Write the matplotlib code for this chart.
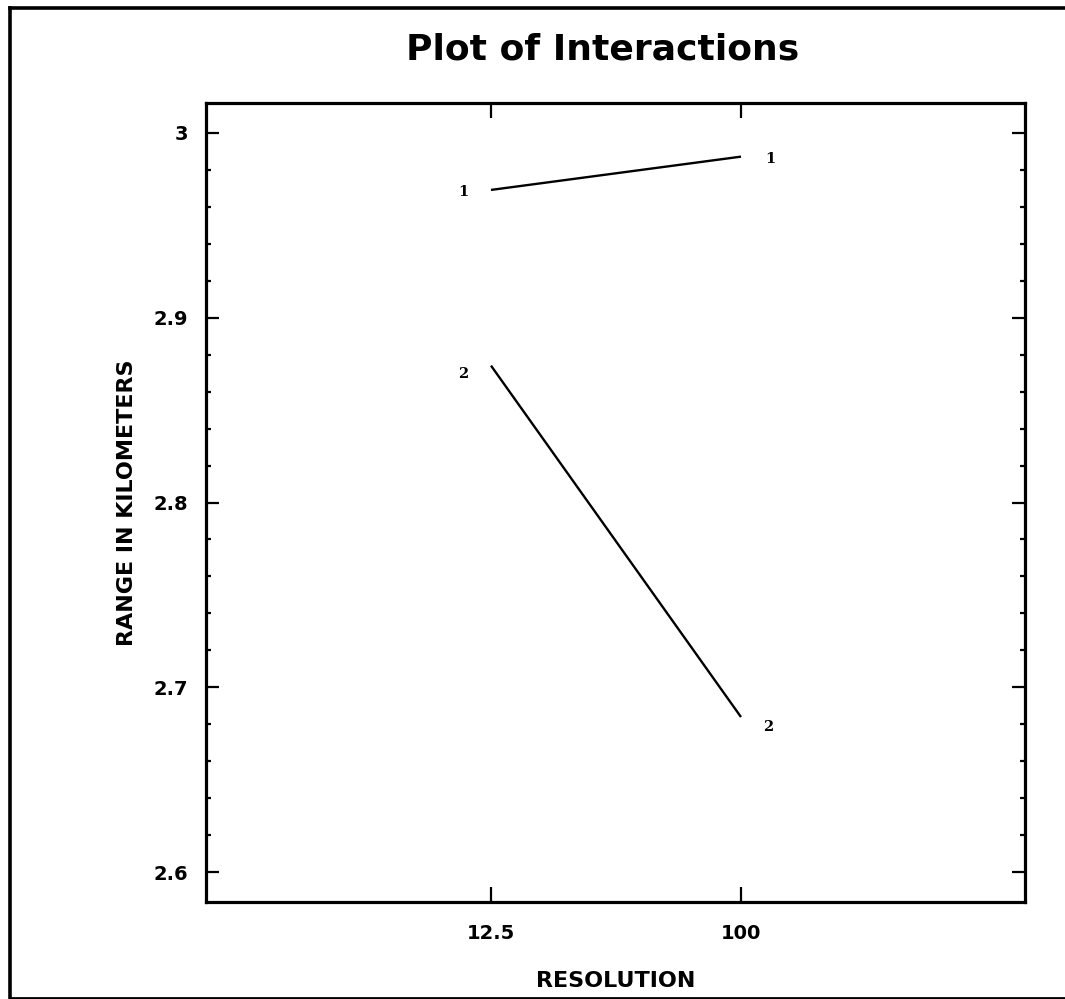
import matplotlib
matplotlib.use("Agg")
import matplotlib.pyplot as plt
from matplotlib.ticker import MultipleLocator, FixedLocator
from matplotlib.lines import Line2D
import numpy as np

# ---- data ----
resolution = ["12.5", "100"]
series_labels = ["1", "2"]
range_series_1 = [2.969, 2.987]
range_series_2 = [2.874, 2.684]
y_ticks = [2.6, 2.7, 2.8, 2.9, 3.0]
y_tick_labels = ["2.6", "2.7", "2.8", "2.9", "3"]

title = "Plot of Interactions"
x_label = "RESOLUTION"
y_label = "RANGE IN KILOMETERS"

W, H = 1065, 999
fig = plt.figure(figsize=(W / 100, H / 100), dpi=100)
fig.patch.set_facecolor("white")

# axes placement in pixels
L, R, T, B = 206, 1025, 103, 902
ax = fig.add_axes([L / W, 1 - B / H, (R - L) / W, (B - T) / H])

x = np.arange(len(resolution)) + 1
series = [range_series_1, range_series_2]
for vals in series:
    ax.plot(x, vals, color="black", lw=1.7, solid_capstyle="butt")

# series labels at both ends
label_offsets = [
    [(-20, -1.5), (21.5, -2)],
    [(-20, -6), (19.5, -7)],
]
for s, vals in enumerate(series):
    for i, xv in enumerate(x):
        ax.annotate(series_labels[s], (xv, vals[i]), xytext=label_offsets[s][i],
                    textcoords="offset points", ha="center", va="center",
                    fontsize=10.5, fontweight="bold", family="DejaVu Serif")

ax.set_xlim(-0.14, 3.136)
ax.set_ylim(2.584, 3.016)

ax.set_xticks(x)
ax.set_xticklabels(resolution)
ax.yaxis.set_major_locator(FixedLocator(y_ticks))
ax.set_yticklabels(y_tick_labels)
ax.yaxis.set_minor_locator(MultipleLocator(0.02))

for sp in ax.spines.values():
    sp.set_linewidth(2.3)

ax.tick_params(axis="x", which="major", direction="in", length=11, width=1.6,
               top=True, bottom=True, pad=16, labelsize=14)
ax.tick_params(axis="y", which="major", direction="in", length=9.5, width=1.6,
               left=True, right=True, pad=13, labelsize=14)
ax.tick_params(axis="y", which="minor", direction="in", length=3.6, width=1.6,
               left=True, right=True)
for lab in ax.get_xticklabels() + ax.get_yticklabels():
    lab.set_fontweight("bold")

ax.set_xlabel(x_label, fontsize=16, fontweight="bold", labelpad=20)
ax.set_ylabel(y_label, fontsize=16, fontweight="bold", labelpad=12)

fig.text(603 / W, 1 - 50 / H, title, ha="center", va="center",
         fontsize=26, fontweight="bold")

# page frame of the scanned sheet
fl = 10 / W
ft = 1 - 8 / H
fb = 1.5 / H
fig.add_artist(Line2D([fl, fl], [0, ft], transform=fig.transFigure, color="black", lw=2.6))
fig.add_artist(Line2D([fl, 1], [ft, ft], transform=fig.transFigure, color="black", lw=2.6))
fig.add_artist(Line2D([fl, 1], [fb, fb], transform=fig.transFigure, color="black", lw=2.0))

fig.savefig("out.png", dpi=100)
